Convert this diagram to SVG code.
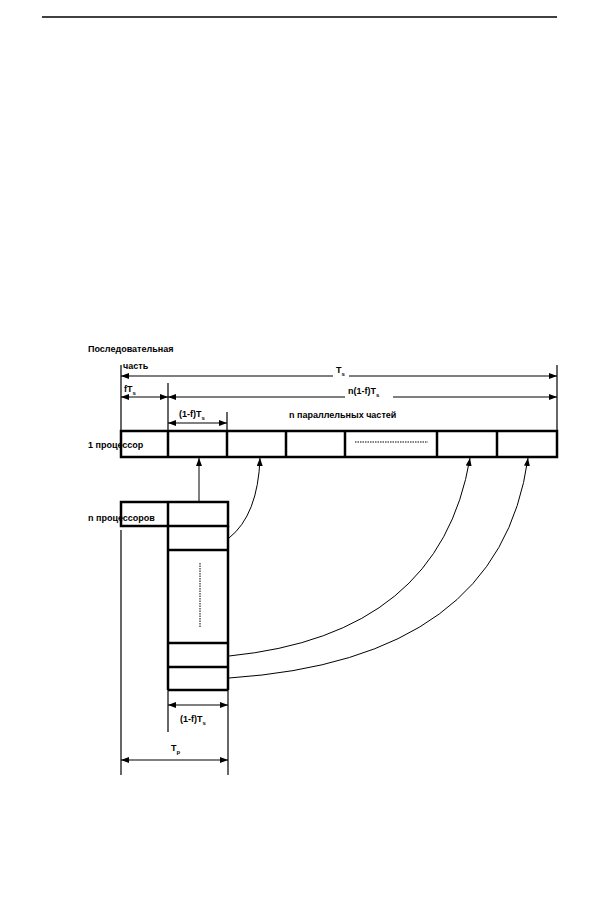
<svg xmlns="http://www.w3.org/2000/svg" width="602" height="908" viewBox="0 0 602 908">
<defs>
<marker id="a" markerWidth="8" markerHeight="6" refX="8" refY="3" orient="auto" markerUnits="userSpaceOnUse"><path d="M0,0L8,3L0,6z" fill="#000"/></marker>
<marker id="b" markerWidth="8" markerHeight="6" refX="0" refY="3" orient="auto" markerUnits="userSpaceOnUse"><path d="M8,0L0,3L8,6z" fill="#000"/></marker>
</defs>
<style>
text{font-family:"Liberation Sans",Arial,sans-serif;font-size:9px;font-weight:bold}
.box{fill:none;stroke:#000;stroke-width:2.5}
.t{stroke:#000;stroke-width:1.2;fill:none}
.d{stroke:#000;stroke-width:1.2;marker-start:url(#b);marker-end:url(#a)}
</style>
<rect width="602" height="908" fill="#fff"/>
<line x1="42" y1="17" x2="557" y2="17" stroke="#000" stroke-width="1.5"/>
<g id="dims">
<line class="t" x1="121" y1="365" x2="121" y2="431"/>
<line class="t" x1="557" y1="365" x2="557" y2="431"/>
<line class="t" x1="168" y1="383" x2="168" y2="431"/>
<line class="t" x1="227" y1="412" x2="227" y2="431"/>
<line class="d" x1="121" y1="376" x2="557" y2="376"/>
<line class="d" x1="121" y1="397" x2="168" y2="397"/>
<line class="d" x1="168" y1="397" x2="557" y2="397"/>
<line class="d" x1="168" y1="423" x2="227" y2="423"/>
<line class="t" x1="121" y1="530" x2="121" y2="775"/>
<line class="t" x1="228" y1="690" x2="228" y2="775"/>
<line class="t" x1="168" y1="690" x2="168" y2="732"/>
<line class="d" x1="168" y1="705" x2="228" y2="705"/>
<line class="d" x1="121" y1="760" x2="228" y2="760"/>
<rect x="333" y="366" width="16" height="14" fill="#fff"/>
<rect x="345" y="387" width="48" height="14" fill="#fff"/>
</g>
<g id="bar1">
<rect class="box" x="121" y="431" width="436" height="26"/>
<g stroke="#000" stroke-width="2.5"><line x1="168" y1="431" x2="168" y2="457"/><line x1="227" y1="431" x2="227" y2="457"/><line x1="286" y1="431" x2="286" y2="457"/><line x1="345" y1="431" x2="345" y2="457"/><line x1="437" y1="431" x2="437" y2="457"/><line x1="497" y1="431" x2="497" y2="457"/></g>
<line x1="355" y1="442" x2="428" y2="442" stroke="#000" stroke-width="1" stroke-dasharray="1.5,1"/>
</g>
<g id="barn">
<rect class="box" x="121" y="502" width="107" height="24"/>
<line x1="168" y1="502" x2="168" y2="690" stroke="#000" stroke-width="2.5"/>
<line x1="228" y1="526" x2="228" y2="690" stroke="#000" stroke-width="2.5"/>
<g stroke="#000" stroke-width="2.5"><line x1="168" y1="550" x2="228" y2="550"/><line x1="168" y1="643" x2="228" y2="643"/><line x1="168" y1="667" x2="228" y2="667"/><line x1="168" y1="690" x2="228" y2="690"/></g>
<line x1="200" y1="563" x2="200" y2="627" stroke="#000" stroke-width="1" stroke-dasharray="1.5,1"/>
</g>
<g id="connectors" fill="none" stroke="#000" stroke-width="1">
<line x1="199" y1="502" x2="199" y2="458" marker-end="url(#a)"/>
<path d="M229,538 Q258,515 260,458" marker-end="url(#a)"/>
<path d="M229,656 Q440,635 470,458" marker-end="url(#a)"/>
<path d="M229,678 Q500,660 528,458" marker-end="url(#a)"/>
</g>
<g id="labels">
<text x="88" y="352">Последовательная</text>
<text x="123" y="369">часть</text>
<text x="336" y="373">T<tspan font-size="6" dy="3">s</tspan></text>
<text x="124" y="392">fT<tspan font-size="6" dy="3">s</tspan></text>
<text x="348" y="394">n(1-f)T<tspan font-size="6" dy="3">s</tspan></text>
<text x="179" y="417">(1-f)T<tspan font-size="6" dy="3">s</tspan></text>
<text x="289" y="418">n параллельных частей</text>
<text x="88" y="448">1 процессор</text>
<text x="88" y="521">n процессоров</text>
<text x="180" y="722">(1-f)T<tspan font-size="6" dy="3">s</tspan></text>
<text x="171" y="751">T<tspan font-size="6" dy="3">p</tspan></text>
</g>
</svg>
